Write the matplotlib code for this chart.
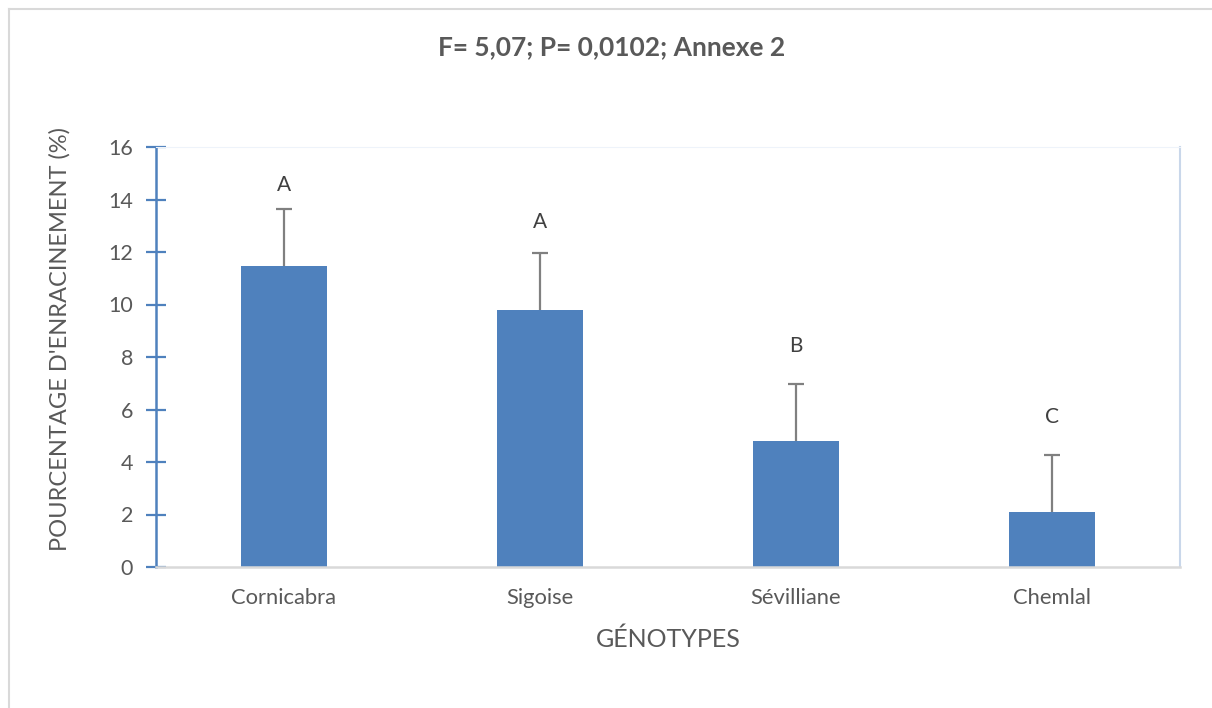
import matplotlib
matplotlib.use("Agg")
import matplotlib.pyplot as plt
from matplotlib.lines import Line2D

# Rooting percentage per olive genotype
genotypes = ["Cornicabra", "Sigoise", "Sévilliane", "Chemlal"]
rooting = [11.45, 9.8, 4.8, 2.1]
errors = [2.18, 2.18, 2.18, 2.18]
groups = ["A", "A", "B", "C"]
group_y = [14.55, 13.15, 8.4, 5.7]

title = "F= 5,07; P= 0,0102; Annexe 2"
y_ticks = [0, 2, 4, 6, 8, 10, 12, 14, 16]

TEXT = "#595959"
BAR = "#4F81BD"
plt.rcParams["font.family"] = ["Lato", "DejaVu Sans"]

W, H = 1212, 708
fig = plt.figure(figsize=(W / 100, H / 100), dpi=100)
# chart frame: only its top and left edges fall inside the canvas
frame_kw = dict(transform=fig.transFigure, color="#d9d9d9", linewidth=1.5)
fig.lines.append(Line2D([8.5 / W, 1.0], [1 - 8.5 / H, 1 - 8.5 / H], **frame_kw))
fig.lines.append(Line2D([8.5 / W, 8.5 / W], [0.0, 1 - 8.5 / H], **frame_kw))

ax = fig.add_axes([156 / W, 1 - 567 / H, 1024 / W, 420 / H])
x = list(range(len(genotypes)))
tops = [v + e for v, e in zip(rooting, errors)]
ax.bar(x, rooting, width=0.336, color=BAR, zorder=2)
# upper-only error bars: stem from bar top, cap at the top end
ax.errorbar(x, rooting, yerr=[[0] * len(errors), errors], fmt="none",
            ecolor="#808080", elinewidth=1.6, capsize=0, zorder=3)
ax.plot(x, tops, linestyle="none", marker="_", markersize=12,
        markeredgewidth=1.6, color="#808080", zorder=3)
for xi, g, gy in zip(x, groups, group_y):
    ax.text(xi, gy, g, ha="center", va="center", fontsize=15, color="#404040")

ax.set_xlim(-0.5, len(genotypes) - 0.5)
ax.set_ylim(0, 16)
ax.set_yticks(y_ticks)
ax.set_xticks(x)
ax.set_xticklabels(genotypes)
ax.tick_params(axis="y", direction="inout", length=15, width=1.6,
               color=BAR, labelsize=15.5, labelcolor=TEXT, pad=9)
ax.tick_params(axis="x", length=0, labelsize=15.8, labelcolor=TEXT, pad=15)

ax.spines["left"].set_color(BAR)
ax.spines["left"].set_linewidth(1.8)
ax.spines["bottom"].set_color("#d9d9d9")
ax.spines["bottom"].set_linewidth(1.8)
ax.spines["top"].set_color("#eef3fa")
ax.spines["right"].set_color("#c9d7ea")
ax.spines["right"].set_linewidth(1.5)

ax.set_ylabel("POURCENTAGE D'ENRACINEMENT (%)", fontsize=17, color=TEXT)
ax.yaxis.set_label_coords(-0.083, 0.543)
ax.set_xlabel("GÉNOTYPES", fontsize=18, color=TEXT)
ax.xaxis.set_label_coords(0.5, -0.143)
fig.text(612 / W, 1 - 47 / H, title, ha="center", va="center",
         fontsize=19, fontweight="bold", color=TEXT)

fig.savefig("out.png", dpi=100)
